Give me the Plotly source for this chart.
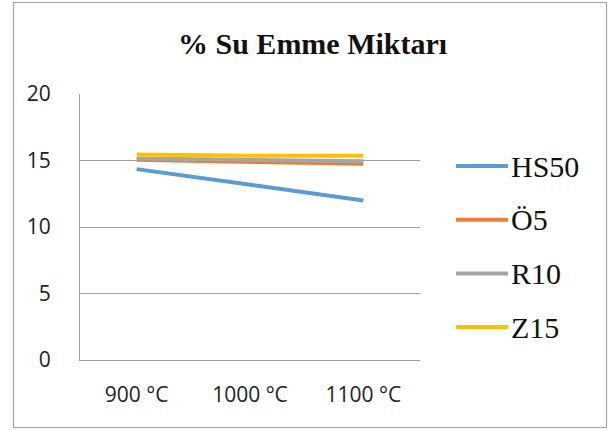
import plotly.graph_objects as go

# Water absorption (%) by firing temperature
categories = ["900 °C", "1000 °C", "1100 °C"]
series_names = ["HS50", "Ö5", "R10", "Z15"]
hs50 = [14.35, 13.15, 12.0]
o5 = [15.05, 14.9, 14.75]
r10 = [15.15, 15.05, 14.95]
z15 = [15.45, 15.35, 15.35]
y_ticks = [0, 5, 10, 15, 20]

series_values = [hs50, o5, r10, z15]
colors = ["#5B9BD5", "#ED7D31", "#A5A5A5", "#FFC000"]

SERIF = "Liberation Serif"
TICK_FONT = dict(family="Open Sans", size=21, color="#222")

W, H = 613, 430
left, right, top, bottom = 80, 420, 94, 360

fig = go.Figure()
for name, vals, col in zip(series_names, series_values, colors):
    fig.add_trace(go.Scatter(
        x=categories, y=vals, name=name, mode="lines",
        line=dict(color=col, width=4), showlegend=False,
    ))

# Pixel -> paper coordinate helpers
def px_x(x):
    return (x - left) / (right - left)

def px_y(y):
    return (bottom - y) / (bottom - top)

shapes = []
annotations = []

# Legend on the right side
legend_y0, legend_step = 166, 53.7
for i, (name, col) in enumerate(zip(series_names, colors)):
    yy = legend_y0 + i * legend_step
    shapes.append(dict(type="line", xref="paper", yref="paper",
                       x0=px_x(456), x1=px_x(508), y0=px_y(yy), y1=px_y(yy),
                       line=dict(color=col, width=4)))
    annotations.append(dict(xref="paper", yref="paper", x=px_x(509), y=px_y(yy),
                            text=name, showarrow=False, xanchor="left", yanchor="middle",
                            font=dict(family=SERIF, size=30, color="#111")))

# Chart title
annotations.append(dict(xref="paper", yref="paper", x=px_x(312), y=px_y(43),
                        text="<b>% Su Emme Miktarı</b>", showarrow=False,
                        xanchor="center", yanchor="middle",
                        font=dict(family=SERIF, size=30, color="#111")))

# Outer chart border
shapes.append(dict(type="rect", xref="paper", yref="paper",
                   x0=px_x(13.5), x1=px_x(606.5), y0=px_y(427.5), y1=px_y(2.5),
                   line=dict(color="#A6A6A6", width=1.2), fillcolor="rgba(0,0,0,0)"))

fig.update_layout(
    width=W, height=H,
    margin=dict(l=left, r=W - right, t=top, b=H - bottom, pad=0),
    paper_bgcolor="white", plot_bgcolor="white",
    xaxis=dict(type="category", range=[-0.5, 2.5], showgrid=False,
               showline=True, linecolor="#A0A0A0", linewidth=1.2,
               ticks="", ticklabelstandoff=16, tickfont=TICK_FONT),
    yaxis=dict(range=[0, 20], tickvals=y_ticks, showgrid=True, gridcolor="#A0A0A0",
               gridwidth=1.2, showline=True, linecolor="#A0A0A0", linewidth=1.2,
               zeroline=False, ticks="", ticklabelstandoff=24, tickfont=TICK_FONT),
    shapes=shapes, annotations=annotations,
)

fig.write_html("out.html")
